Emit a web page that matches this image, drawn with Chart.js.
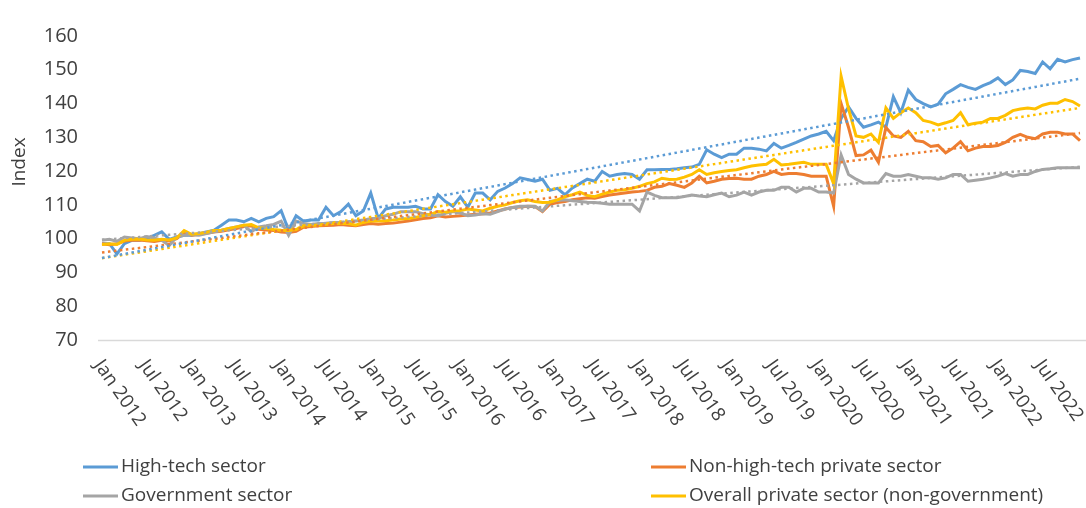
<!DOCTYPE html>
<html>
<head>
<meta charset="utf-8">
<script src="https://cdn.jsdelivr.net/npm/chart.js@4.4.0/dist/chart.umd.min.js"></script>
<style>
  html, body { margin: 0; padding: 0; background: #ffffff; }
  #wrap { position: relative; width: 1086px; height: 508px; }
</style>
</head>
<body>
<div id="wrap"><canvas id="chart" width="1086" height="508"></canvas></div>
<script>
// Monthly wage index, Jan 2012 – Dec 2022
const MONTHS = ['Jan','Feb','Mar','Apr','May','Jun','Jul','Aug','Sep','Oct','Nov','Dec'];
const YEARS = [2012, 2013, 2014, 2015, 2016, 2017, 2018, 2019, 2020, 2021, 2022];
const categories = [];
YEARS.forEach(y => MONTHS.forEach(m => categories.push(m + ' ' + y)));

const tickLabels = [
  'Jan 2012','Jul 2012','Jan 2013','Jul 2013','Jan 2014','Jul 2014','Jan 2015','Jul 2015',
  'Jan 2016','Jul 2016','Jan 2017','Jul 2017','Jan 2018','Jul 2018','Jan 2019','Jul 2019',
  'Jan 2020','Jul 2020','Jan 2021','Jul 2021','Jan 2022','Jul 2022'
];
const yTicks = [70, 80, 90, 100, 110, 120, 130, 140, 150, 160];

const seriesNames = [
  'High-tech sector',
  'Non-high-tech private sector',
  'Government sector',
  'Overall private sector (non-government)'
];

const highTech = [
  98.5, 98.5, 95.5, 98.5, 99.5, 99.5, 100, 101, 102, 99.8, 100.5, 101,
  101, 101.5, 102, 102.5, 104, 105.5, 105.5, 105, 106, 105, 106, 106.5,
  108.3, 102.5, 106.8, 105.2, 105.5, 105.5, 109.3, 106.8, 108, 110.2, 106.8, 108.2,
  113.5, 106, 108.8, 109.3, 109.3, 109.3, 109.6, 108.8, 108.8, 113, 111, 109.6,
  112.4, 109.3, 113.5, 113.5, 111.5, 114, 115, 116.3, 118, 117.5, 117, 117.6,
  114.3, 114.9, 113, 115, 116.3, 117.6, 117, 119.9, 118.5, 119, 119.3, 119,
  117.6, 120.4, 120.4, 120.5, 120.5, 120.7, 121, 121.2, 122, 126.3, 125, 124,
  125, 125, 126.8, 126.8, 126.5, 126, 128.2, 126.8, 127.6, 128.5, 129.5, 130.4,
  131, 131.8, 129, 135.6, 139, 135.6, 133, 133.7, 134.5, 133, 142, 137.3,
  144, 141.2, 140, 139, 139.8, 142.9, 144.2, 145.6, 144.8, 144.2, 145.3, 146.2,
  147.6, 145.6, 147, 149.8, 149.5, 148.9, 152.3, 150.3, 153.1, 152.3, 153, 153.5
];

const nonHighTech = [
  98.5, 98.2, 98.5, 99.3, 99.5, 99.6, 99.4, 99.2, 99.5, 99.3, 100, 101.8,
  101, 101.2, 101.6, 102, 102.2, 102.6, 103, 103.6, 103.8, 102.8, 102.6, 102.4,
  102, 101.8, 102.2, 103.4, 103.6, 103.8, 103.9, 104, 104.2, 104, 103.8, 104.2,
  104.5, 104.3, 104.5, 104.6, 104.9, 105.2, 105.6, 106, 106.2, 106.8, 106.4, 106.6,
  106.8, 107, 107.2, 107.4, 107.6, 108.2, 108.8, 109.2, 109.4, 109.6, 109.5, 108,
  110.2, 110.7, 111, 111.5, 111.8, 112.1, 112, 112.5, 112.9, 113.2, 113.5, 113.8,
  114, 114.3, 115.2, 115.5, 116.3, 115.8, 115.2, 116.5, 118.5, 116.5, 117, 117.6,
  117.8, 117.9, 117.6, 117.6, 118.5, 119, 119.9, 119, 119.3, 119.3, 119, 118.5,
  118.5, 118.5, 109.6, 140, 132.9, 124.6, 124.8, 126.2, 122.6, 132.9, 130.4, 130,
  131.8, 129, 128.7, 127.3, 127.6, 125.4, 126.8, 128.7, 126, 126.8, 127.3, 127.3,
  127.6, 128.5, 130, 130.9, 130, 129.6, 131, 131.5, 131.5, 131, 131, 129
];

const government = [
  99.5, 99.8, 99.2, 100.5, 100.2, 100, 100.6, 100.2, 99.5, 98, 100.5, 101,
  101.2, 101, 101.5, 102, 102.5, 103, 103.5, 104, 102, 103.5, 103.8, 104.2,
  105.2, 101, 105.2, 104.5, 104.2, 104.5, 104.6, 104.8, 104.8, 105, 105.2, 105.5,
  106, 106, 106.8, 107.2, 108, 108, 108, 107.4, 107, 106.8, 107.5, 108,
  107.6, 106.8, 107, 107.4, 107.2, 108, 108.8, 109.2, 109.6, 109.6, 109.6, 108.2,
  111, 111.3, 111.5, 111.2, 111, 110.8, 110.7, 110.5, 110.2, 110.2, 110.2, 110.2,
  108.2, 113.8, 112.8, 112.1, 112.1, 112.1, 112.5, 112.9, 112.6, 112.4, 113, 113.5,
  112.4, 112.9, 113.8, 112.9, 113.8, 114.3, 114.3, 115.2, 115.2, 113.8, 114.9, 114.9,
  113.8, 113.8, 113.5, 124.8, 119, 117.6, 116.5, 116.5, 116.5, 119.3, 118.5, 118.5,
  119, 118.5, 118, 118, 117.6, 118, 119, 119, 117, 117.3, 117.6, 118,
  118.5, 119.3, 118.5, 119, 119, 119.9, 120.5, 120.7, 121, 121, 121, 121
];

const overallPrivate = [
  98.3, 98.5, 98.3, 99.5, 99.8, 99.9, 99.6, 99.5, 99.8, 99.6, 100.2, 102.4,
  101.3, 101.5, 101.9, 102.4, 102.5, 103, 103.5, 104, 104.2, 103.2, 103, 102.7,
  102.5, 102.4, 102.7, 103.8, 104, 104, 104.3, 104.5, 104.6, 104.5, 104, 104.8,
  105.2, 105.2, 105.3, 105.5, 105.8, 106, 106.3, 106.8, 107.2, 108, 107.8, 108.2,
  108.3, 108.8, 108.5, 108.2, 109, 109.6, 110, 110.7, 111.2, 111.5, 111, 110.7,
  110.8, 111.5, 112.4, 113, 113.8, 112.8, 112.4, 113.2, 113.8, 114.3, 114.5, 114.9,
  115.5, 116.3, 116.8, 117.9, 117.5, 117.6, 118.2, 119, 120.4, 119, 119.5, 119.9,
  120.2, 120.4, 121, 121.5, 121.8, 122, 123.5, 121.8, 122, 122.3, 122.6, 122,
  122, 122, 116.3, 148.1, 138.4, 130.4, 130, 131, 128.5, 138.7, 135.6, 137.3,
  138.7, 137.3, 135, 134.5, 133.7, 134.3, 135, 137.3, 133.7, 134.2, 134.5, 135.6,
  135.6, 136.5, 137.9, 138.4, 138.7, 138.4, 139.5, 140.1, 140.1, 141.2, 140.6, 139.3
];

const seriesValues = [highTech, nonHighTech, government, overallPrivate];
const seriesColors = ['#5B9BD5', '#ED7D31', '#A5A5A5', '#FFC000'];
// drawing order: overall private on top, then government, non-high-tech, high-tech
const seriesOrder = [4, 3, 2, 1];

// Ordinary least-squares linear trend of a monthly series
function linearTrend(values) {
  const n = values.length;
  let sx = 0, sy = 0, sxy = 0, sxx = 0;
  values.forEach((v, i) => { sx += i; sy += v; sxy += i * v; sxx += i * i; });
  const slope = (n * sxy - sx * sy) / (n * sxx - sx * sx);
  const intercept = (sy - slope * sx) / n;
  return values.map((_, i) => intercept + slope * i);
}

const datasets = [];
seriesValues.forEach((vals, i) => {
  datasets.push({
    label: seriesNames[i],
    data: vals,
    borderColor: seriesColors[i],
    borderWidth: 3,
    pointRadius: 0,
    tension: 0,
    fill: false,
    order: seriesOrder[i],
    isSeries: true
  });
});
seriesValues.forEach((vals, i) => {
  datasets.push({
    label: 'Linear (' + seriesNames[i] + ')',
    data: linearTrend(vals),
    borderColor: seriesColors[i],
    borderWidth: 2.5,
    borderDash: [2.5, 3.5],
    pointRadius: 0,
    tension: 0,
    fill: false,
    order: 0,
    isSeries: false
  });
});

const TEXT_COLOR = '#404040';
const FONT = '"Open Sans", "Noto Sans", sans-serif';

// Base line, rotated month labels, the axis title and the two-column legend
const decorations = {
  id: 'decorations',
  beforeDatasetsDraw(chart) {
    const ctx = chart.ctx;
    const area = chart.chartArea;
    const ys = chart.scales.y;
    const yBase = Math.round(ys.getPixelForValue(yTicks[0])) + 0.5;
    ctx.save();
    ctx.strokeStyle = '#d9d9d9';
    ctx.lineWidth = 1.5;
    ctx.beginPath();
    ctx.moveTo(area.left - 4, yBase);
    ctx.lineTo(area.right + 6, yBase);
    ctx.stroke();
    ctx.restore();
  },
  afterDraw(chart) {
    const ctx = chart.ctx;
    const xs = chart.scales.x;
    const area = chart.chartArea;

    ctx.save();
    ctx.fillStyle = TEXT_COLOR;
    ctx.font = '19px ' + FONT;
    ctx.textAlign = 'left';
    ctx.textBaseline = 'middle';
    tickLabels.forEach(lbl => {
      const idx = categories.indexOf(lbl);
      const px = xs.getPixelForValue(idx);
      ctx.save();
      ctx.translate(px - 4, area.bottom + 22);
      ctx.rotate(55 * Math.PI / 180);
      ctx.fillText(lbl, 0, 0);
      ctx.restore();
    });
    ctx.restore();

    // y-axis title
    ctx.save();
    ctx.fillStyle = TEXT_COLOR;
    ctx.font = '19px ' + FONT;
    ctx.textAlign = 'center';
    ctx.textBaseline = 'middle';
    ctx.translate(20, 162);
    ctx.rotate(-Math.PI / 2);
    ctx.fillText('Index', 0, 0);
    ctx.restore();

    // legend, filled row by row in two columns
    const colX = [83, 651];
    const rowY = [467, 496];
    const items = chart.data.datasets.filter(d => d.isSeries);
    ctx.save();
    ctx.font = '19px ' + FONT;
    ctx.textAlign = 'left';
    ctx.textBaseline = 'middle';
    items.forEach((d, i) => {
      const x = colX[i % 2];
      const y = rowY[Math.floor(i / 2)];
      ctx.strokeStyle = d.borderColor;
      ctx.lineWidth = 3;
      ctx.beginPath();
      ctx.moveTo(x, y);
      ctx.lineTo(x + 35, y);
      ctx.stroke();
      ctx.fillStyle = TEXT_COLOR;
      ctx.fillText(d.label, x + 38, y);
    });
    ctx.restore();
  }
};

new Chart(document.getElementById('chart'), {
  type: 'line',
  data: { labels: categories, datasets: datasets },
  options: {
    responsive: false,
    animation: false,
    events: [],
    layout: { padding: { left: 0, right: 6, top: 16, bottom: 0 } },
    plugins: { legend: { display: false }, tooltip: { enabled: false } },
    scales: {
      x: {
        type: 'category',
        offset: false,
        grid: { display: false, drawTicks: false },
        border: { display: false },
        ticks: { display: false },
        afterFit(scale) { scale.height = 168; }
      },
      y: {
        min: yTicks[0],
        max: yTicks[yTicks.length - 1],
        afterBuildTicks(scale) { scale.ticks = yTicks.map(v => ({ value: v })); },
        grid: { display: false, drawTicks: false },
        border: { display: false },
        ticks: {
          color: TEXT_COLOR,
          padding: 24,
          font: { family: FONT, size: 20 }
        },
        afterFit(scale) { scale.width = 102; }
      }
    }
  },
  plugins: [decorations]
});
</script>
</body>
</html>
